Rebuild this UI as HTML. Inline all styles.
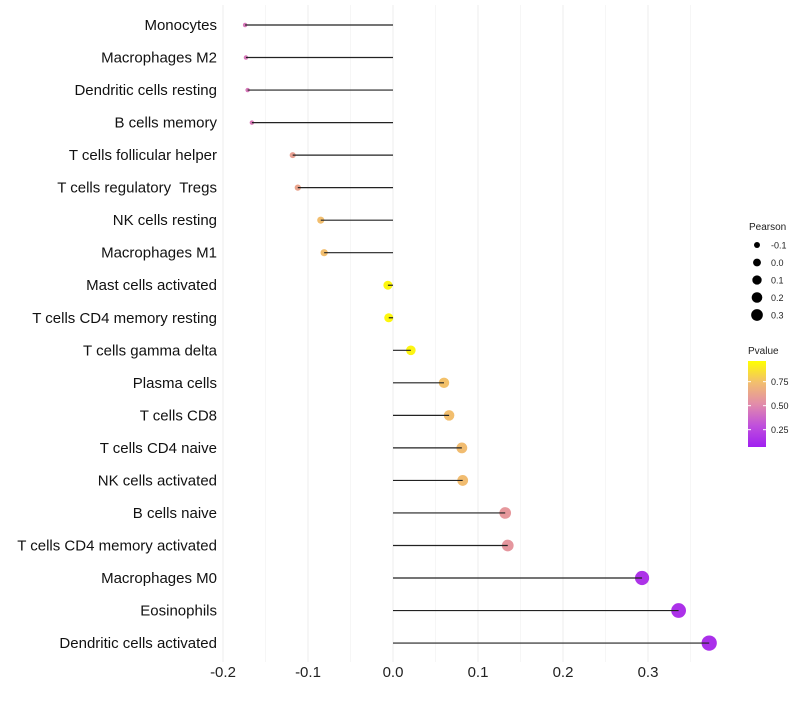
<!DOCTYPE html>
<html><head><meta charset="utf-8"><style>
html,body{margin:0;padding:0;background:#fff;}
svg text{font-family:"Liberation Sans",sans-serif;white-space:pre;}
</style></head><body>
<svg id="chart" width="800" height="700"></svg>
<script>
const categories=["Monocytes","Macrophages M2","Dendritic cells resting","B cells memory","T cells follicular helper","T cells regulatory  Tregs","NK cells resting","Macrophages M1","Mast cells activated","T cells CD4 memory resting","T cells gamma delta","Plasma cells","T cells CD8","T cells CD4 naive","NK cells activated","B cells naive","T cells CD4 memory activated","Macrophages M0","Eosinophils","Dendritic cells activated"];
const pearson=[-0.174,-0.173,-0.171,-0.166,-0.118,-0.112,-0.085,-0.081,-0.006,-0.005,0.021,0.060,0.066,0.081,0.082,0.132,0.135,0.293,0.336,0.372];
const pvalues=[0.42,0.42,0.42,0.43,0.6,0.62,0.75,0.75,0.97,0.97,0.96,0.76,0.75,0.74,0.74,0.56,0.55,0.1,0.09,0.08];
const xTicks=[-0.2,-0.1,0.0,0.1,0.2,0.3];
const xTickLabels=["-0.2","-0.1","0.0","0.1","0.2","0.3"];
const sizeLegend=[-0.1,0.0,0.1,0.2,0.3];
const pLegend=[0.25,0.50,0.75];

const NS="http://www.w3.org/2000/svg";
const svg=document.getElementById('chart');
function mk(t,a,p){const e=document.createElementNS(NS,t);for(const k in a)e.setAttribute(k,a[k]);(p||svg).appendChild(e);return e;}
const x=v=>393+v*850;
const y=i=>25+i*32.53;
const rad=v=>Math.sqrt(Math.max(5,21+100*v));
const stops=[[0,[160,32,240]],[0.25,[192,80,220]],[0.5,[226,140,170]],[0.75,[242,190,110]],[1,[255,255,0]]];
function col(p){for(let i=1;i<stops.length;i++){if(p<=stops[i][0]){const a=stops[i-1],b=stops[i];const t=(p-a[0])/(b[0]-a[0]);const c=a[1].map((v,k)=>Math.round(v+(b[1][k]-v)*t));return `rgb(${c})`;}}return 'rgb(255,255,0)';}

for(let k=0;k<=11;k++){
  const v=-0.2+k*0.05;
  const g=mk('line',{x1:x(v),x2:x(v),y1:5,y2:662,stroke:'#ececec','stroke-width':k%2===0?1:0.5});
  
  
}
xTicks.forEach((v,i)=>{
  const t=mk('text',{x:x(v),y:677,'text-anchor':'middle','font-size':15,fill:'#222'});
  t.textContent=xTickLabels[i];
  
  
});
categories.forEach((c,i)=>{
  const t=mk('text',{x:217,y:y(i)+5,'text-anchor':'end','font-size':15,fill:'#111'});
  t.textContent=c;
  
  
  const d=mk('circle',{cx:x(pearson[i]),cy:y(i),r:rad(pearson[i]),fill:col(pvalues[i])});
  
  
  const s=mk('line',{x1:x(0),x2:x(pearson[i]),y1:y(i),y2:y(i),stroke:'#222','stroke-width':1.2});
  
  
});
const lt=mk('text',{x:749,y:230,'font-size':10,fill:'#222'});lt.textContent='Pearson';


sizeLegend.forEach((v,i)=>{
  const cy=245+i*17.5;
  const c=mk('circle',{cx:757,cy:cy,r:rad(v)*0.75+0.5,fill:'#000'});
  
  
  const t=mk('text',{x:771,y:cy+3.5,'font-size':9,fill:'#222'});t.textContent=v.toFixed(1);
  
  
});
const pt=mk('text',{x:748,y:354,'font-size':10,fill:'#222'});pt.textContent='Pvalue';


const defs=mk('defs',{});
const lg=mk('linearGradient',{id:'pg',x1:0,y1:1,x2:0,y2:0},defs);
stops.forEach(s=>mk('stop',{offset:s[0],'stop-color':`rgb(${s[1]})`},lg));
const cb=mk('rect',{x:748,y:361,width:18,height:86,fill:'url(#pg)'});


const py=p=>446-(p-0.08)/0.25*24;
pLegend.forEach(p=>{
  mk('line',{x1:748,x2:751,y1:py(p),y2:py(p),stroke:'#fff'});
  mk('line',{x1:763,x2:766,y1:py(p),y2:py(p),stroke:'#fff'});
  const t=mk('text',{x:771,y:py(p)+3.5,'font-size':9,fill:'#222'});t.textContent=p.toFixed(2);
  
  
});
</script>
</body></html>
